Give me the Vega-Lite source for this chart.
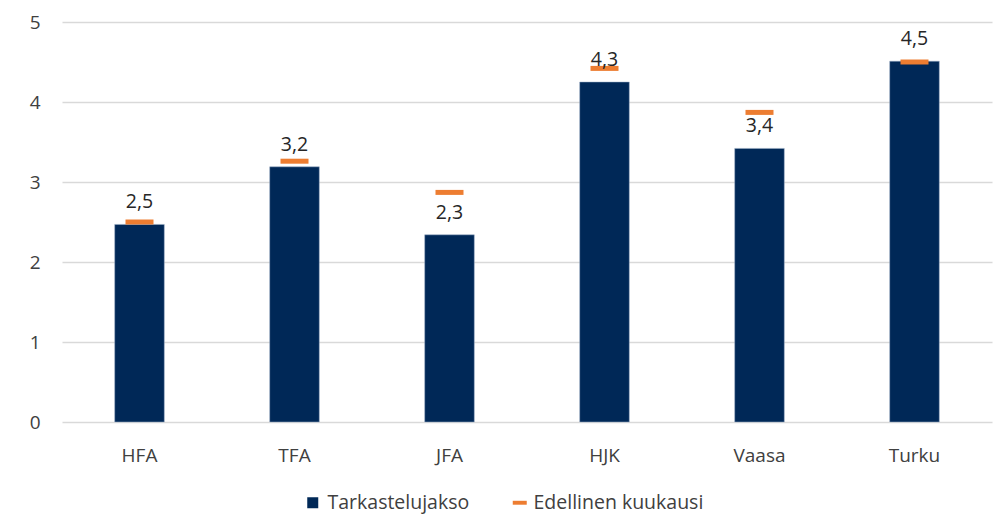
{
  "$schema": "https://vega.github.io/schema/vega-lite/v6.json",
  "width": 930,
  "height": 400,
  "autosize": {"type": "none"},
  "padding": {"left": 62, "top": 22, "right": 11, "bottom": 102},
  "config": {
    "view": {"stroke": null},
    "font": "Open Sans",
    "legend": {"padding": 0, "labelLimit": 400},
    "locale": {"number": {"decimal": ",", "thousands": " ", "grouping": [3], "currency": ["", " €"]}}
  },
  "data": {
    "values": [
      {"alue": "HFA", "tarkastelu": 2.47, "edellinen": 2.5},
      {"alue": "TFA", "tarkastelu": 3.19, "edellinen": 3.26},
      {"alue": "JFA", "tarkastelu": 2.34, "edellinen": 2.87},
      {"alue": "HJK", "tarkastelu": 4.25, "edellinen": 4.42},
      {"alue": "Vaasa", "tarkastelu": 3.42, "edellinen": 3.87},
      {"alue": "Turku", "tarkastelu": 4.51, "edellinen": 4.5}
    ]
  },
  "resolve": {"scale": {"color": "independent"}},
  "encoding": {
    "x": {
      "field": "alue", "type": "nominal", "sort": null,
      "scale": {"paddingInner": 0.68, "paddingOuter": 0.34},
      "axis": {"title": null, "labelAngle": 0, "domain": false, "ticks": false, "labelPadding": 24, "labelFontSize": 19, "labelColor": "#404040"}
    }
  },
  "layer": [
    {
      "mark": {"type": "bar", "stroke": "#9fb0c8", "strokeWidth": 0.5},
      "encoding": {
        "y": {
          "field": "tarkastelu", "type": "quantitative",
          "scale": {"domain": [0, 5], "nice": false},
          "axis": {"title": null, "values": [0, 1, 2, 3, 4, 5], "format": "d", "domain": false, "ticks": false, "gridColor": "#d9d9d9", "gridWidth": 1.5, "labelPadding": 22, "labelFontSize": 19, "labelColor": "#404040"}
        },
        "color": {
          "datum": "Tarkastelujakso",
          "type": "nominal",
          "scale": {"domain": ["Tarkastelujakso"], "range": ["#002857"]},
          "legend": {
            "title": null, "orient": "none", "direction": "horizontal",
            "legendX": 241, "legendY": 471,
            "labelFontSize": 19.5, "labelColor": "#404040", "symbolType": "square", "symbolSize": 121, "labelOffset": 5, "symbolStrokeWidth": 0
          }
        }
      }
    },
    {
      "mark": {"type": "tick", "thickness": 5, "size": 28, "opacity": 1},
      "encoding": {
        "y": {"field": "edellinen", "type": "quantitative"},
        "color": {
          "datum": "Edellinen kuukausi",
          "type": "nominal",
          "scale": {"domain": ["Edellinen kuukausi"], "range": ["#ED7D31"]},
          "legend": {
            "title": null, "orient": "none", "direction": "horizontal",
            "legendX": 448, "legendY": 471,
            "labelFontSize": 19.5, "labelColor": "#404040", "symbolType": "M-1,-0.28H1V0.28H-1Z", "symbolSize": 196, "labelOffset": 4, "symbolStrokeWidth": 0, "symbolOpacity": 1
          }
        }
      }
    },
    {
      "mark": {"type": "text", "baseline": "bottom", "dy": -12, "fontSize": 19.5, "color": "#262626"},
      "encoding": {
        "y": {"field": "tarkastelu", "type": "quantitative"},
        "text": {"field": "tarkastelu", "type": "quantitative", "format": ".1f"}
      }
    }
  ]
}
